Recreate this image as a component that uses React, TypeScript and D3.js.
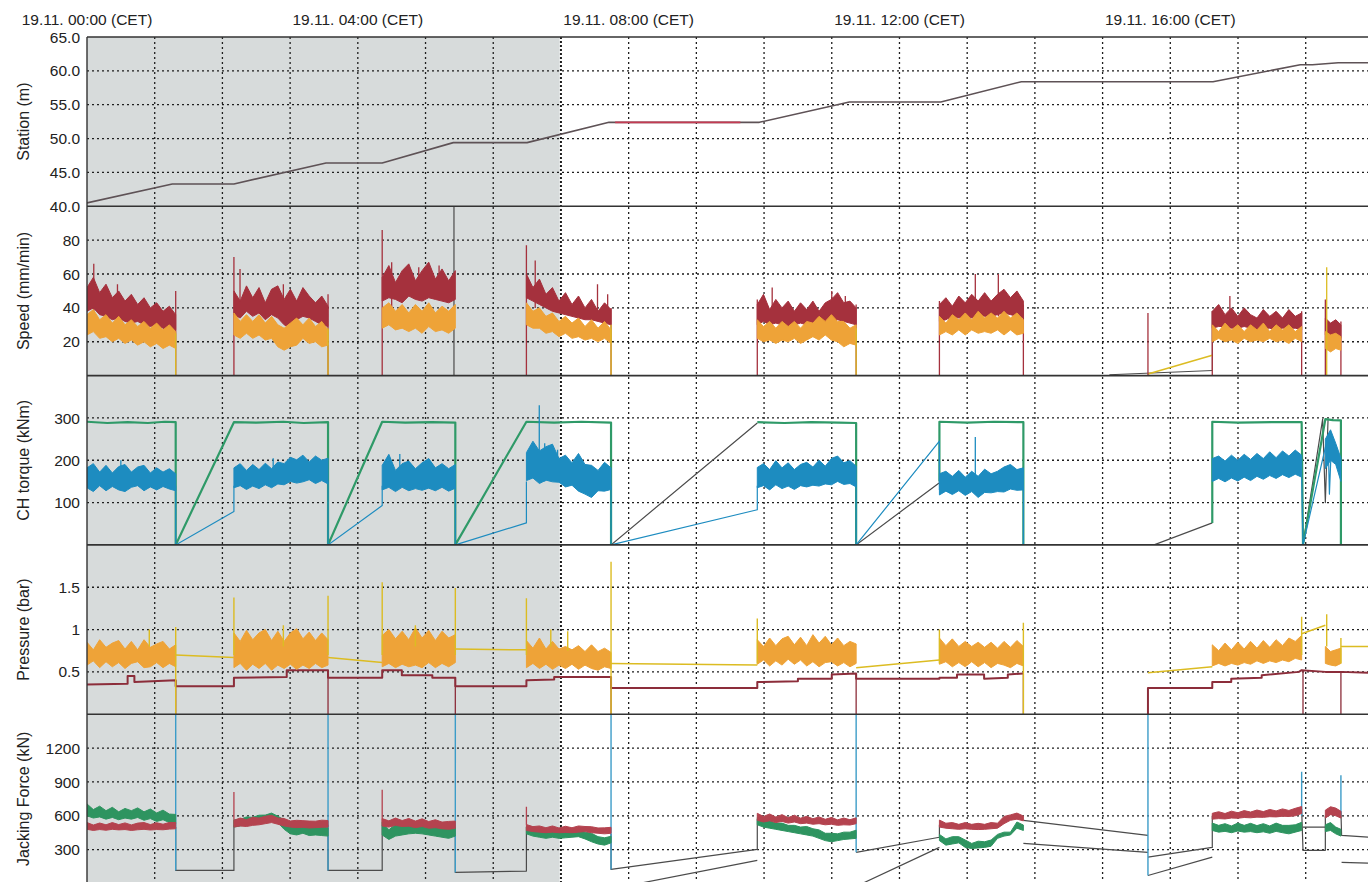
import React from 'react';
import * as d3 from 'd3';

// time axis (hours after 19.11. 00:00)
const hourLabels = ['19.11. 00:00 (CET)', '19.11. 04:00 (CET)', '19.11. 08:00 (CET)', '19.11. 12:00 (CET)', '19.11. 16:00 (CET)'];
const hourLabelAt = [0, 4, 8, 12, 16];
const gridHours = [1, 2, 3, 4, 5, 6, 7, 8, 9, 10, 11, 12, 13, 14, 15, 16, 17, 18];
const shadeEnd = 6.98;

// panels
const panelTitles = ['Station (m)', 'Speed (mm/min)', 'CH torque (kNm)', 'Pressure (bar)', 'Jacking Force (kN)'];
const panelMin = [40, 0, 0, 0, 0];
const panelMax = [65, 100, 400, 2, 1500];
const panelTicks = [[40, 45, 50, 55, 60, 65], [20, 40, 60, 80], [100, 200, 300], [0.5, 1, 1.5], [300, 600, 900, 1200]];
const panelTickLabels = [['40.0', '45.0', '50.0', '55.0', '60.0', '65.0'], ['20', '40', '60', '80'], ['100', '200', '300'], ['0.5', '1', '1.5'], ['300', '600', '900', '1200']];

// advance strokes (hours)
const blockStart = [0.0, 2.17, 4.36, 6.49, 9.9, 12.59, 16.62, 18.29];
const blockEnd = [1.31, 3.56, 5.44, 7.74, 11.36, 13.83, 17.94, 18.52];

// station
const stationT = [0, 1.26, 2.17, 3.53, 4.36, 5.41, 6.5, 7.71, 9.93, 11.26, 12.61, 13.8, 16.63, 17.92, 18.1, 18.48, 18.92];
const stationV = [40.5, 43.3, 43.3, 46.4, 46.4, 49.4, 49.4, 52.4, 52.4, 55.4, 55.4, 58.4, 58.4, 60.9, 60.9, 61.2, 61.2];
const stationRedT = [7.8, 9.65];
const stationRedV = [52.4, 52.4];

// speed
const speedRedHi = [
  [52, 58, 49, 54, 46, 50, 44, 48, 42, 46, 40, 43, 38, 41, 36],
  [50, 44, 53, 46, 52, 43, 51, 53, 45, 51, 44, 52, 47, 43, 47, 41],
  [58, 65, 55, 62, 66, 56, 62, 67, 57, 63, 56, 62],
  [60, 52, 57, 48, 52, 44, 49, 42, 47, 40, 45, 38, 43, 39],
  [42, 48, 39, 45, 40, 44, 38, 43, 39, 44, 38, 43, 45, 49, 43, 44, 40],
  [42, 46, 41, 47, 43, 48, 44, 49, 44, 48, 51, 46, 50, 44],
  [38, 42, 36, 40, 35, 40, 36, 34, 39, 35, 38, 34, 39, 35, 37],
  [34, 31, 33, 30],
];
const speedRedLo = [
  [38, 40, 36, 35, 33, 34, 32, 31, 32, 30, 29, 30, 28, 27, 27],
  [36, 34, 38, 35, 37, 33, 36, 34, 30, 28, 33, 35, 34, 32, 30, 29],
  [44, 46, 45, 43, 47, 45, 44, 46, 45, 44, 43, 45],
  [46, 44, 42, 40, 38, 37, 36, 35, 34, 33, 33, 32, 31, 30],
  [30, 32, 30, 31, 30, 29, 30, 31, 30, 29, 30, 31, 30, 33, 32, 31, 30],
  [32, 33, 35, 34, 35, 34, 36, 35, 35, 36, 37, 36, 35, 34],
  [28, 29, 29, 28, 28, 29, 28, 27, 28, 28, 27, 28, 28, 28, 27],
  [24, 22, 23, 22],
];
const speedOrangeHi = [
  [36, 39, 33, 36, 31, 35, 30, 33, 29, 32, 28, 31, 27, 30, 26],
  [37, 32, 36, 32, 36, 31, 35, 30, 28, 31, 34, 30, 34, 29, 32, 27],
  [40, 43, 38, 42, 37, 42, 38, 43, 37, 41, 38, 42],
  [43, 38, 40, 35, 37, 32, 35, 31, 34, 29, 33, 28, 32, 27],
  [33, 29, 32, 28, 32, 29, 32, 28, 32, 31, 35, 32, 36, 32, 32, 28, 30],
  [35, 31, 36, 33, 37, 33, 38, 34, 37, 34, 38, 34, 37, 33],
  [30, 26, 31, 27, 30, 26, 30, 27, 31, 26, 30, 27, 30, 26, 29],
  [26, 24, 25, 23],
];
const speedOrangeLo = [
  [24, 26, 22, 23, 20, 22, 19, 21, 18, 20, 17, 19, 16, 18, 16],
  [24, 22, 25, 22, 24, 21, 22, 17, 15, 17, 18, 22, 19, 20, 17, 18],
  [28, 30, 27, 28, 26, 28, 25, 29, 26, 27, 25, 28],
  [30, 28, 28, 25, 26, 23, 25, 22, 23, 21, 22, 20, 22, 19],
  [22, 20, 21, 19, 21, 20, 22, 19, 21, 23, 21, 24, 21, 20, 17, 19, 18],
  [24, 26, 24, 27, 24, 27, 25, 26, 25, 27, 24, 27, 24, 25],
  [20, 22, 20, 21, 19, 22, 20, 21, 20, 22, 20, 21, 19, 22, 20],
  [16, 14, 16, 15],
];
// [hour, from, to]
const speedRedTicks = [
  [0.1, 30, 66], [1.31, 0, 50], [2.17, 0, 70], [2.26, 35, 63], [3.56, 0, 48], [4.36, 0, 86], [4.5, 40, 67],
  [6.49, 0, 77], [6.62, 40, 68], [7.54, 35, 54], [7.69, 35, 48], [7.74, 0, 40], [9.9, 0, 45], [10.12, 35, 52],
  [11.0, 35, 50], [11.36, 0, 42], [12.59, 0, 44], [13.12, 35, 60], [13.46, 35, 60], [13.83, 0, 42],
  [15.67, 0, 37], [16.62, 0, 38], [16.88, 30, 47], [17.94, 0, 38], [18.29, 0, 45], [18.52, 0, 32],
  [0.45, 35, 54], [2.9, 35, 54], [4.9, 45, 64], [5.2, 45, 65], [11.2, 35, 47],
];
const speedGrayTicks = [[5.42, 0, 100]];
const speedYellowTicks = [[1.31, 0, 25], [3.56, 0, 28], [7.74, 0, 30], [11.36, 0, 28], [18.31, 0, 64]];
const speedYellowLine = [[15.67, 1], [16.62, 12]];
const speedGrayLine = [[15.1, 0.5], [16.62, 3], [16.62, 38]];

// CH torque
const torqueBlueHi = [
  [182, 192, 172, 188, 170, 185, 190, 172, 184, 188, 170, 182, 172, 180, 168],
  [182, 192, 176, 190, 178, 193, 180, 196, 192, 207, 201, 212, 196, 210, 200, 205],
  [188, 214, 176, 192, 198, 180, 194, 204, 182, 192, 180, 190],
  [218, 245, 222, 232, 238, 204, 212, 194, 216, 190, 188, 176, 195, 182],
  [183, 192, 178, 199, 182, 194, 178, 190, 195, 184, 200, 186, 204, 210, 194, 199, 186],
  [168, 174, 162, 176, 160, 174, 162, 179, 168, 174, 184, 190, 178, 182],
  [204, 210, 198, 212, 200, 214, 202, 216, 204, 220, 206, 222, 210, 224, 212],
  [250, 272, 240, 205],
];
const torqueBlueLo = [
  [135, 126, 140, 128, 138, 130, 126, 136, 140, 128, 137, 130, 138, 132, 128],
  [135, 140, 131, 139, 133, 142, 135, 144, 142, 150, 146, 149, 154, 145, 152, 144],
  [130, 136, 126, 136, 128, 133, 129, 134, 128, 136, 127, 134],
  [152, 158, 145, 153, 149, 148, 137, 141, 127, 120, 112, 128, 127, 131],
  [135, 140, 130, 142, 133, 139, 131, 140, 137, 141, 139, 144, 142, 150, 143, 145, 137],
  [118, 127, 119, 128, 117, 126, 112, 124, 123, 126, 125, 132, 129, 130],
  [150, 157, 149, 158, 151, 160, 152, 162, 155, 164, 157, 166, 159, 167, 160],
  [180, 200, 190, 150],
];
const torqueGreen = [
  [0, 291], [0.3, 288], [0.6, 290], [0.9, 288], [1.15, 291], [1.31, 290], [1.31, 0], [2.17, 290], [2.5, 289], [2.9, 291],
  [3.2, 288], [3.56, 290], [3.56, 0], [4.36, 291], [4.7, 289], [5.1, 290], [5.44, 289], [5.44, 0], [6.49, 291], [6.9, 289],
  [7.3, 291], [7.74, 289], [7.74, 0], null, [9.9, 290], [10.3, 288], [10.7, 290], [11.1, 289], [11.36, 288], [11.36, 0], null,
  [12.59, 150], [12.59, 291], [13.0, 289], [13.4, 291], [13.83, 290], [13.83, 0], null,
  [16.62, 52], [16.62, 291], [17.0, 289], [17.5, 290], [17.94, 290], [17.96, 0], [18.29, 297], [18.4, 295], [18.52, 294], [18.52, 0],
];
const torqueDark = [
  [7.74, 0], [9.9, 288], null, [11.36, 0], [12.59, 147], null, [13.83, 0], [15.76, 0], [16.62, 52], null,
  [17.96, 0], [18.25, 297], [18.29, 100], [18.33, 297], null, [18.52, 0], [18.92, 0],
];
const torqueBlueLinks = [
  [1.31, 140], [1.31, 0], [2.17, 79], [2.17, 140], null,
  [3.56, 150], [3.56, 0], [4.36, 93], [4.36, 140], null,
  [5.44, 140], [5.44, 0], [6.49, 52], [6.49, 150], null,
  [7.74, 140], [7.74, 0], [9.9, 83], [9.9, 140], null,
  [11.36, 150], [11.36, 0], [12.59, 245], [12.59, 130], null,
  [13.83, 140], [13.83, 0], null,
  [17.94, 160], [17.96, 0], [18.33, 258], [18.35, 120], [18.38, 240], null,
];
const torqueBlueTicks = [[6.68, 150, 330], [6.76, 150, 240], [4.62, 150, 215], [13.12, 150, 255], [0.5, 150, 200], [2.75, 150, 205], [6.95, 150, 225]];

// pressure
const pressOrangeHi = [
  [0.85, 0.76, 0.88, 0.79, 0.84, 0.87, 0.77, 0.86, 0.76, 0.88, 0.79, 0.83, 0.86, 0.77, 0.82],
  [0.96, 0.86, 0.99, 0.88, 0.96, 1.0, 0.87, 0.98, 0.86, 0.96, 1.01, 0.89, 0.97, 0.87, 0.96, 0.88],
  [0.93, 1.0, 0.89, 0.98, 0.88, 1.02, 0.9, 0.99, 0.87, 0.98, 0.9, 0.94],
  [0.87, 0.78, 0.9, 0.77, 0.86, 0.77, 0.8, 0.76, 0.81, 0.74, 0.82, 0.74, 0.78, 0.73],
  [0.88, 0.8, 0.9, 0.81, 0.89, 0.92, 0.82, 0.91, 0.81, 0.94, 0.84, 0.92, 0.82, 0.9, 0.81, 0.86, 0.83],
  [0.9, 0.81, 0.89, 0.8, 0.86, 0.8, 0.85, 0.79, 0.85, 0.78, 0.86, 0.79, 0.87, 0.8],
  [0.82, 0.75, 0.84, 0.76, 0.85, 0.77, 0.86, 0.78, 0.87, 0.79, 0.88, 0.81, 0.9, 0.86, 0.93],
  [0.8, 0.74, 0.76, 0.78],
];
const pressOrangeLo = [
  [0.58, 0.63, 0.55, 0.62, 0.56, 0.61, 0.54, 0.6, 0.62, 0.55, 0.56, 0.61, 0.55, 0.6, 0.56],
  [0.55, 0.6, 0.52, 0.59, 0.54, 0.6, 0.52, 0.58, 0.54, 0.59, 0.53, 0.58, 0.54, 0.6, 0.55, 0.58],
  [0.56, 0.6, 0.55, 0.59, 0.56, 0.58, 0.55, 0.61, 0.55, 0.6, 0.56, 0.61],
  [0.55, 0.6, 0.54, 0.59, 0.53, 0.58, 0.54, 0.59, 0.53, 0.58, 0.54, 0.52, 0.56, 0.54],
  [0.59, 0.64, 0.57, 0.63, 0.58, 0.65, 0.59, 0.64, 0.57, 0.62, 0.56, 0.61, 0.62, 0.57, 0.61, 0.56, 0.6],
  [0.59, 0.62, 0.56, 0.61, 0.56, 0.62, 0.56, 0.61, 0.55, 0.6, 0.58, 0.55, 0.6, 0.57],
  [0.57, 0.6, 0.57, 0.6, 0.58, 0.61, 0.59, 0.63, 0.6, 0.63, 0.61, 0.64, 0.62, 0.66, 0.64],
  [0.6, 0.58, 0.57, 0.6],
];
const pressYellowLinks = [
  [1.31, 0.7], [2.17, 0.67], null, [3.56, 0.67], [4.36, 0.61], null, [5.44, 0.77], [6.49, 0.76], null,
  [7.74, 0.6], [9.9, 0.58], null, [11.36, 0.55], [12.59, 0.64], null, [15.67, 0.49], [16.62, 0.56], null,
  [17.94, 0.95], [18.29, 1.05], null, [18.52, 0.8], [18.92, 0.8],
];
const pressYellowTicks = [
  [0.92, 0.8, 1.0], [1.31, 0, 1.03], [2.17, 0.7, 1.38], [3.56, 0.7, 1.4], [4.36, 0.7, 1.56], [5.44, 0.7, 1.49],
  [6.49, 0.7, 1.37], [6.85, 0.8, 1.0], [7.74, 0, 1.8], [9.9, 0.6, 1.13], [12.59, 0.6, 1.0], [13.83, 0, 1.08],
  [17.94, 0.7, 1.15], [18.31, 0.8, 1.18], [18.52, 0.6, 0.9], [2.9, 0.8, 1.05], [4.85, 0.8, 1.05], [7.1, 0.75, 0.98],
];
const pressRed = [
  [0, 0.35], [0.6, 0.36], [0.6, 0.45], [0.7, 0.45], [0.7, 0.38], [1.31, 0.4], [1.31, 0.33], [2.17, 0.33], [2.17, 0.43],
  [2.95, 0.44], [2.95, 0.52], [3.56, 0.52], [3.56, 0.43], [4.36, 0.43], [4.36, 0.52], [4.65, 0.52], [4.65, 0.46], [5.1, 0.46],
  [5.1, 0.43], [5.44, 0.43], [5.44, 0.33], [6.49, 0.33], [6.49, 0.4], [6.9, 0.41], [6.9, 0.44], [7.74, 0.44], [7.74, 0.31],
  [9.9, 0.31], [9.9, 0.38], [10.5, 0.39], [10.5, 0.42], [11.0, 0.42], [11.0, 0.47], [11.36, 0.48], [11.36, 0.42],
  [12.59, 0.42], [12.59, 0.43], [12.85, 0.43], [12.85, 0.47], [13.25, 0.47], [13.25, 0.42], [13.6, 0.43], [13.6, 0.47],
  [13.83, 0.48], null, [15.67, 0], [15.67, 0.31], [16.62, 0.31], [16.62, 0.38], [16.9, 0.38], [16.9, 0.42], [17.35, 0.43],
  [17.35, 0.46], [17.9, 0.5], [17.94, 0.52], [18.29, 0.5], [18.52, 0.5], [18.92, 0.49],
];
const pressRedTicks = [[1.31, 0, 0.4], [3.56, 0, 0.52], [5.44, 0, 0.43], [7.74, 0, 0.44], [11.36, 0, 0.48], [13.83, 0, 0.48], [17.96, 0, 0.52], [18.52, 0, 0.5]];

// jacking force
const jackRedHi = [
  [540, 518, 536, 520, 540, 522, 537, 519, 535, 540, 522, 538, 525, 541, 540],
  [560, 580, 565, 586, 580, 596, 604, 580, 576, 554, 560, 557, 553, 552, 561, 558],
  [575, 555, 580, 558, 576, 553, 573, 549, 565, 544, 550, 553],
  [522, 504, 510, 494, 510, 492, 507, 494, 510, 505, 503, 492, 493, 498],
  [622, 594, 616, 589, 610, 584, 605, 579, 595, 574, 590, 569, 585, 564, 580, 565, 582],
  [562, 534, 540, 524, 540, 524, 533, 524, 540, 534, 594, 608, 624, 598],
  [622, 636, 620, 641, 627, 646, 633, 651, 637, 656, 643, 661, 647, 666, 682],
  [650, 680, 668, 640],
];
const jackRedLo = [
  [480, 470, 478, 472, 480, 475, 478, 470, 476, 480, 474, 478, 476, 482, 485],
  [500, 510, 505, 515, 520, 530, 540, 525, 510, 500, 495, 498, 492, 495, 498, 500],
  [510, 500, 515, 505, 508, 495, 505, 490, 495, 485, 480, 490],
  [470, 460, 455, 450, 455, 450, 452, 450, 455, 460, 450, 445, 440, 445],
  [560, 545, 555, 540, 550, 535, 545, 530, 535, 525, 530, 520, 525, 515, 520, 518, 530],
  [500, 490, 485, 480, 485, 480, 478, 480, 485, 490, 530, 560, 570, 555],
  [570, 575, 572, 580, 578, 585, 582, 588, 586, 592, 590, 596, 594, 600, 620],
  [580, 610, 600, 580],
];
const jackGreenHi = [
  [705, 655, 685, 645, 675, 635, 665, 645, 670, 635, 660, 625, 650, 615, 612],
  [562, 568, 590, 586, 605, 606, 624, 596, 564, 526, 514, 516, 504, 500, 504, 492],
  [545, 475, 525, 505, 535, 520, 525, 510, 505, 485, 485, 498],
  [505, 475, 475, 460, 475, 455, 470, 465, 485, 455, 445, 415, 405, 418],
  [585, 555, 555, 535, 535, 515, 515, 500, 505, 485, 475, 445, 445, 440, 455, 455, 472],
  [435, 395, 415, 415, 385, 355, 375, 370, 385, 435, 455, 455, 545, 518],
  [535, 515, 530, 510, 535, 515, 533, 513, 530, 510, 535, 515, 515, 520, 542],
  [520, 540, 500, 480],
];
const jackGreenLo = [
  [600, 580, 590, 570, 585, 565, 580, 570, 585, 560, 575, 550, 565, 540, 530],
  [500, 510, 520, 530, 540, 545, 555, 540, 480, 440, 430, 445, 425, 430, 425, 420],
  [430, 390, 420, 430, 440, 445, 440, 430, 420, 410, 400, 420],
  [440, 420, 410, 400, 410, 400, 405, 410, 415, 395, 370, 350, 340, 360],
  [520, 500, 490, 480, 470, 460, 450, 440, 430, 420, 400, 380, 370, 380, 390, 395, 400],
  [380, 340, 350, 360, 320, 310, 315, 320, 330, 400, 420, 430, 490, 470],
  [470, 455, 462, 450, 465, 455, 460, 450, 458, 445, 462, 450, 440, 455, 470],
  [460, 470, 440, 420],
];
const jackLinks = [
  [1.31, 500], [1.31, 116], [2.17, 116], [2.17, 520], null,
  [3.56, 520], [3.56, 116], [4.36, 116], [4.36, 520], null,
  [5.44, 520], [5.44, 98], [6.49, 110], [6.49, 500], null,
  [7.74, 440], [7.74, 125], [9.9, 302], [9.9, 570], null, [8.15, 0], [9.9, 205], null,
  [11.36, 276], [12.59, 410], [12.59, 520], null, [11.45, 0], [12.59, 320], null,
  [13.83, 560], [15.67, 427], null, [13.83, 356], [15.67, 276], null,
  [15.67, 233], [16.62, 320], [16.62, 600], null, [15.67, 71], [16.62, 233], null,
  [17.94, 660], [17.96, 294], [18.29, 294], [18.29, 600], null, [17.96, 500], [18.29, 500], null,
  [18.52, 640], [18.53, 427], [18.92, 410], null, [18.53, 187], [18.92, 180],
];
const jackRedTicks = [[2.17, 520, 810], [4.36, 520, 830], [6.49, 520, 680]];
const jackBlueTicks = [
  [1.31, 116, 1600], [3.56, 116, 1600], [5.44, 98, 1600], [7.74, 125, 1600], [11.36, 276, 1600], [15.67, 71, 1600],
  [17.94, 600, 990], [18.52, 600, 960],
];

// ---------------------------------------------------------------

const W = 1368;
const H = 882;
const LEFT = 87;
const TOP = 37;
const PH = 169.3;
const FONT = '"Liberation Sans", Arial, Helvetica, sans-serif';

const C = {
  shade: '#d7dbdb',
  grid: '#1e1e1e',
  axis: '#333',
  text: '#222',
  station: '#5e5256',
  stationRed: '#c43a52',
  red: '#a5313d',
  orange: '#eea338',
  yellow: '#dcbc22',
  green: '#2f9a68',
  blue: '#1d8cc0',
  dark: '#4b4b4b',
  pRed: '#8c2d3a',
  jRed: '#b4434f',
  jGreen: '#2e9460',
  jBlue: '#3c9cc8',
};

const x = d3.scaleLinear().domain([0, 18.92]).range([LEFT, W]);

function bandBlocks(hi: number[][], lo: number[][]) {
  return hi.map((h, b) =>
    h.map((v, i) => ({
      t: blockStart[b] + (i * (blockEnd[b] - blockStart[b])) / (h.length - 1),
      hi: v,
      lo: lo[b][i],
    }))
  );
}

function Band({ hi, lo, y, color }: any) {
  const area = d3
    .area<any>()
    .x((d) => x(d.t))
    .y0((d) => y(d.lo))
    .y1((d) => y(d.hi));
  return (
    <g>
      {bandBlocks(hi, lo).map((bl, k) => (
        <path key={k} d={area(bl) || ''} fill={color} stroke={color} strokeWidth={1} strokeLinejoin="miter" />
      ))}
    </g>
  );
}

function Poly({ pts, y, color, width = 1.2 }: any) {
  const line = d3
    .line<any>()
    .defined((d) => d !== null)
    .x((d) => x(d[0]))
    .y((d) => y(d[1]));
  return <path d={line(pts) || ''} fill="none" stroke={color} strokeWidth={width} strokeLinejoin="round" />;
}

function Ticks({ segs, y, color, width = 1.3 }: any) {
  return (
    <g>
      {segs.map((s: number[], k: number) => (
        <line key={k} x1={x(s[0])} x2={x(s[0])} y1={y(s[1])} y2={y(s[2])} stroke={color} strokeWidth={width} />
      ))}
    </g>
  );
}

function panelContent(i: number, y: any) {
  if (i === 0) {
    const st = stationT.map((t, k) => [t, stationV[k]]);
    const sr = stationRedT.map((t, k) => [t, stationRedV[k]]);
    return (
      <g>
        <Poly pts={st} y={y} color={C.station} width={1.6} />
        <Poly pts={sr} y={y} color={C.stationRed} width={1.6} />
      </g>
    );
  }
  if (i === 1) {
    return (
      <g>
        <Poly pts={speedGrayLine} y={y} color={C.dark} width={1} />
        <Poly pts={speedYellowLine} y={y} color={C.yellow} width={1.5} />
        <Ticks segs={speedGrayTicks} y={y} color={C.dark} width={1.2} />
        <Ticks segs={speedRedTicks} y={y} color={C.red} width={1.3} />
        <Band hi={speedRedHi} lo={speedRedLo} y={y} color={C.red} />
        <Band hi={speedOrangeHi} lo={speedOrangeLo} y={y} color={C.orange} />
        <Ticks segs={speedYellowTicks} y={y} color={C.yellow} width={1.3} />
      </g>
    );
  }
  if (i === 2) {
    return (
      <g>
        <Poly pts={torqueDark} y={y} color={C.dark} width={1.2} />
        <Poly pts={torqueGreen} y={y} color={C.green} width={2.2} />
        <Poly pts={torqueBlueLinks} y={y} color={C.blue} width={1.2} />
        <Ticks segs={torqueBlueTicks} y={y} color={C.blue} width={1.3} />
        <Band hi={torqueBlueHi} lo={torqueBlueLo} y={y} color={C.blue} />
      </g>
    );
  }
  if (i === 3) {
    return (
      <g>
        <Ticks segs={pressRedTicks} y={y} color={C.pRed} width={1.3} />
        <Poly pts={pressRed} y={y} color={C.pRed} width={2} />
        <Poly pts={pressYellowLinks} y={y} color={C.yellow} width={1.5} />
        <Band hi={pressOrangeHi} lo={pressOrangeLo} y={y} color={C.orange} />
        <Ticks segs={pressYellowTicks} y={y} color={C.yellow} width={1.4} />
      </g>
    );
  }
  return (
    <g>
      <Poly pts={jackLinks} y={y} color={C.dark} width={1.2} />
      <Ticks segs={jackBlueTicks} y={y} color={C.jBlue} width={1.4} />
      <Ticks segs={jackRedTicks} y={y} color={C.jRed} width={1.3} />
      <Band hi={jackGreenHi} lo={jackGreenLo} y={y} color={C.jGreen} />
      <Band hi={jackRedHi} lo={jackRedLo} y={y} color={C.jRed} />
    </g>
  );
}

export default function App() {
  const panels = panelTitles.map((title, i) => {
    const y0 = TOP + i * PH;
    const y1 = y0 + PH;
    const y = d3.scaleLinear().domain([panelMin[i], panelMax[i]]).range([y1, y0]);
    return { title, i, y0, y1, y };
  });

  return (
    <svg
      width={W}
      height={H}
      viewBox={`0 0 ${W} ${H}`}
      style={{ position: 'absolute', left: 0, top: 0, display: 'block', background: '#fff' }}
      fontFamily={FONT}
    >
      <defs>
        {panels.map((p) => (
          <clipPath key={p.i} id={`clip${p.i}`}>
            <rect x={LEFT} y={p.y0} width={W - LEFT} height={PH} />
          </clipPath>
        ))}
      </defs>

      {/* shaded part */}
      <rect x={LEFT} y={TOP} width={x(shadeEnd) - LEFT} height={H - TOP} fill={C.shade} />

      {/* time labels */}
      {hourLabels.map((lab, k) => (
        <text key={lab} x={x(hourLabelAt[k])} y={25} textAnchor="middle" fontSize={15.5} fill={C.text}>
          {lab}
        </text>
      ))}

      {/* vertical grid */}
      {gridHours.map((h) => (
        <line
          key={h}
          x1={x(h)}
          x2={x(h)}
          y1={TOP}
          y2={H}
          stroke={C.grid}
          strokeWidth={h === 7 ? 2 : 1.3}
          strokeDasharray={h === 7 ? '2 2' : '2 3'}
        />
      ))}

      {panels.map((p) => (
        <g key={p.i}>
          {/* horizontal grid + tick labels */}
          {panelTicks[p.i].map((v, k) => (
            <g key={v}>
              {p.y(v) > p.y0 + 1 && p.y(v) < p.y1 - 1 && (
                <line x1={LEFT} x2={W} y1={p.y(v)} y2={p.y(v)} stroke={C.grid} strokeWidth={1.3} strokeDasharray="2 3" />
              )}
              <text x={80} y={p.y(v)} dy="0.36em" textAnchor="end" fontSize={15.5} fill={C.text}>
                {panelTickLabels[p.i][k]}
              </text>
            </g>
          ))}
          <text
            transform={`translate(29, ${(p.y0 + p.y1) / 2}) rotate(-90)`}
            textAnchor="middle"
            fontSize={16}
            fill={C.text}
          >
            {p.title}
          </text>
          <g clipPath={`url(#clip${p.i})`}>{panelContent(p.i, p.y)}</g>
        </g>
      ))}

      {/* panel frames */}
      {panels.map((p) => (
        <line key={p.i} x1={LEFT} x2={W} y1={p.y0} y2={p.y0} stroke={C.axis} strokeWidth={1.6} />
      ))}
      <line x1={LEFT} x2={LEFT} y1={TOP} y2={H} stroke={C.axis} strokeWidth={1.4} />
    </svg>
  );
}
